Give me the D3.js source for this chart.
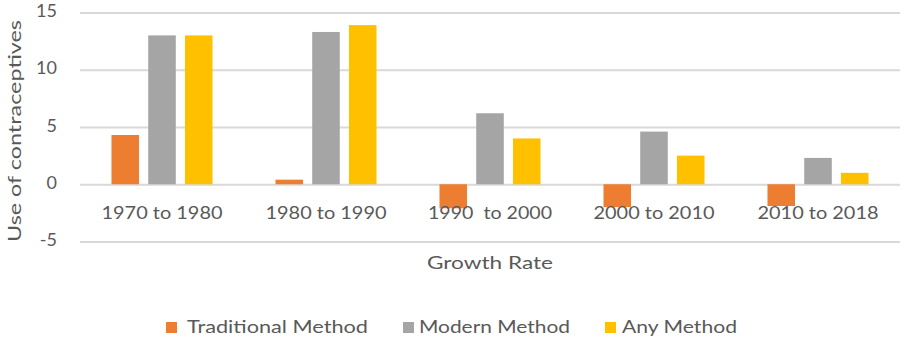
<!DOCTYPE html>
<html>
<head>
<meta charset="utf-8">
<script src="https://cdn.jsdelivr.net/npm/d3@7"></script>
<style>
  html, body { margin: 0; padding: 0; background: #fff; }
  svg { display: block; }
  text { font-family: Lato, "Open Sans", sans-serif; fill: #595959; white-space: pre; }
</style>
</head>
<body>
<svg id="chart" width="906" height="338"></svg>
<script>
// Growth rate in contraceptive use by period and method
const categories = ["1970 to 1980", "1980 to 1990", "1990  to 2000", "2000 to 2010", "2010 to 2018"];
const seriesNames = ["Traditional Method", "Modern Method", "Any Method"];
const traditional = [4.3, 0.4, -2.1, -2.0, -1.9];
const modern = [13.0, 13.3, 6.2, 4.6, 2.3];
const anyMethod = [13.0, 13.9, 4.0, 2.5, 1.0];
const yTicks = [-5, 0, 5, 10, 15];
const colors = ["#ED7D31", "#A5A5A5", "#FFC000"];

const seriesValues = [traditional, modern, anyMethod];
const rows = categories.map((c, i) => ({
  category: c,
  values: seriesNames.map((s, k) => ({ series: s, value: seriesValues[k][i], color: colors[k] }))
}));

const svg = d3.select("#chart");
const plotLeft = 80, plotRight = 900, plotTop = 12.5, plotBottom = 241.5;

const y = d3.scaleLinear().domain([-5, 15]).range([plotBottom, plotTop]);
const pad = 0.384;
const x0 = d3.scaleBand().domain(categories).range([plotLeft, plotRight])
  .paddingInner(pad).paddingOuter(pad / 2);
const x1 = d3.scaleBand().domain(seriesNames).range([0, x0.bandwidth()])
  .paddingInner(0.25).paddingOuter(0);

// Gridlines
const grid = d3.axisLeft(y).tickValues(yTicks).tickSize(-(plotRight - plotLeft)).tickFormat("");
svg.append("g")
  .attr("transform", `translate(${plotLeft},0)`)
  .call(grid)
  .call(g => g.select(".domain").remove())
  .call(g => g.selectAll("line").attr("stroke", "#D9D9D9").attr("stroke-width", 1.8));

// Y tick labels
svg.append("g").selectAll("text")
  .data(yTicks).join("text")
  .attr("x", 57)
  .attr("y", d => y(d))
  .attr("text-anchor", "end")
  .attr("dominant-baseline", "middle")
  .attr("font-size", 18)
  .text(d => d);

// Bars
const groups = svg.append("g").selectAll("g")
  .data(rows).join("g")
  .attr("transform", d => `translate(${x0(d.category)},0)`);

groups.selectAll("rect")
  .data(d => d.values).join("rect")
  .attr("x", d => x1(d.series))
  .attr("width", x1.bandwidth())
  .attr("y", d => y(Math.max(0, d.value)))
  .attr("height", d => Math.abs(y(d.value) - y(0)))
  .attr("fill", d => d.color);

// Category labels (drawn above the bars)
svg.append("g").selectAll("text")
  .data(categories).join("text")
  .attr("x", d => x0(d) + x0.bandwidth() / 2)
  .attr("y", 214)
  .attr("text-anchor", "middle")
  .attr("dominant-baseline", "middle")
  .attr("font-size", 18)
  .attr("textLength", d => d.includes("  ") ? 124 : 121)
  .attr("lengthAdjust", "spacingAndGlyphs")
  .text(d => d);

// Axis titles
svg.append("text")
  .attr("x", (plotLeft + plotRight) / 2)
  .attr("y", 264)
  .attr("text-anchor", "middle")
  .attr("dominant-baseline", "middle")
  .attr("font-size", 18)
  .attr("textLength", 126)
  .attr("lengthAdjust", "spacingAndGlyphs")
  .text("Growth Rate");

svg.append("text")
  .attr("transform", "translate(16,131) rotate(-90)")
  .attr("text-anchor", "middle")
  .attr("dominant-baseline", "middle")
  .attr("font-size", 18)
  .attr("textLength", 222)
  .attr("lengthAdjust", "spacingAndGlyphs")
  .text("Use of contraceptives");

// Legend
const legendItems = [
  { name: seriesNames[0], color: colors[0], sx: 166, tx: 187, w: 181 },
  { name: seriesNames[1], color: colors[1], sx: 403, tx: 419, w: 151 },
  { name: seriesNames[2], color: colors[2], sx: 605, tx: 622, w: 115 }
];
const legend = svg.append("g");
legend.selectAll("rect")
  .data(legendItems).join("rect")
  .attr("x", d => d.sx)
  .attr("y", 322)
  .attr("width", 11)
  .attr("height", 11)
  .attr("fill", d => d.color);
legend.selectAll("text")
  .data(legendItems).join("text")
  .attr("x", d => d.tx)
  .attr("y", 328)
  .attr("dominant-baseline", "middle")
  .attr("font-size", 18)
  .attr("textLength", d => d.w)
  .attr("lengthAdjust", "spacingAndGlyphs")
  .text(d => d.name);
</script>
</body>
</html>
